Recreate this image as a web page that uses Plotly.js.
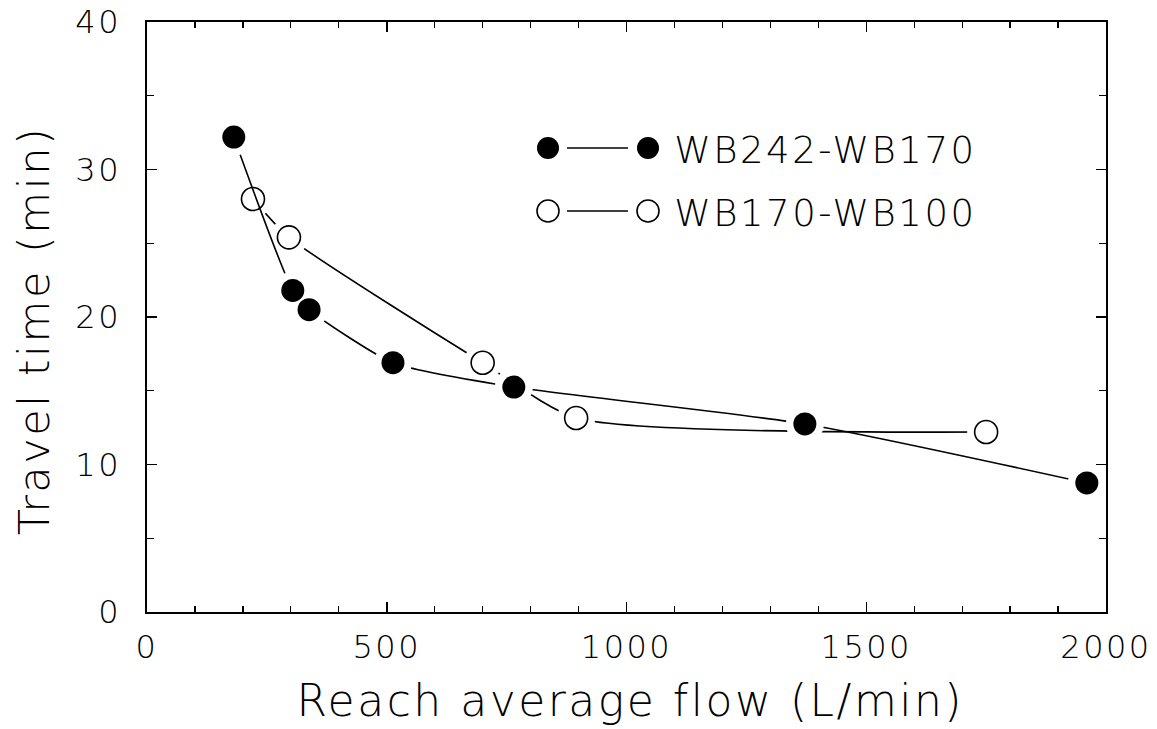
<!DOCTYPE html>
<html>
<head>
<meta charset="utf-8">
<script src="https://cdn.plot.ly/plotly-3.0.1.min.js"></script>
<style>
html,body{margin:0;padding:0;background:#fff;}
#chart{width:1157px;height:729px;}
#chart text{letter-spacing:2.5px;}
</style>
</head>
<body>
<div id="chart"></div>
<script>
// Data
const seriesNames = ["WB242-WB170", "WB170-WB100"];
const flowA = [181, 304, 338, 513, 765, 1372, 1960];
const timeA = [32.2, 21.8, 20.5, 16.9, 15.25, 12.75, 8.75];
const flowB = [221, 296, 700, 895, 1750];
const timeB = [28.0, 25.4, 16.9, 13.15, 12.2];
const xTickVals = [0, 500, 1000, 1500, 2000];
const yTickVals = [0, 10, 20, 30, 40];
const xTitle = 'Reach average flow (L/min)';
const yTitle = 'Travel time (min)';

const FONT = "'DejaVu Sans', sans-serif";
const WT = 200;
const W = 1157, H = 729;
const L = 147, R = 1106, T = 22, B = 612;
const px = v => (v - L) / (R - L);
const py = v => (B - v) / (B - T);

const lineW = 1.6;
const traces = [
  // open series
  {x: flowB, y: timeB, mode: 'lines', line: {color: '#000', width: lineW, shape: 'spline', smoothing: 0.6}, hoverinfo: 'skip', showlegend: false},
  {x: flowB, y: timeB, mode: 'markers', marker: {symbol: 'circle', size: 38, color: '#fff', line: {width: 0}}, hoverinfo: 'skip', showlegend: false},
  {x: flowB, y: timeB, mode: 'markers', name: seriesNames[1], marker: {symbol: 'circle', size: 23, color: '#fff', line: {color: '#000', width: 1.6}}, showlegend: false},
  // filled series
  {x: flowA, y: timeA, mode: 'lines', line: {color: '#000', width: lineW, shape: 'spline', smoothing: 0.6}, hoverinfo: 'skip', showlegend: false},
  {x: flowA, y: timeA, mode: 'markers', marker: {symbol: 'circle', size: 38, color: '#fff', line: {width: 0}}, hoverinfo: 'skip', showlegend: false},
  {x: flowA, y: timeA, mode: 'markers', name: seriesNames[0], marker: {symbol: 'circle', size: 23, color: '#000', line: {width: 0}}, showlegend: false}
];

// Legend drawn by hand (marker-line-marker pattern)
const legRows = [{y: 148, filled: true, text: seriesNames[0]}, {y: 211, filled: false, text: seriesNames[1]}];
const shapes = [];
const annotations = [];
const rr = 11;
legRows.forEach(r => {
  [548, 648].forEach(cx => {
    shapes.push({type: 'circle', xref: 'paper', yref: 'paper',
      x0: px(cx - rr), x1: px(cx + rr), y0: py(r.y + rr), y1: py(r.y - rr),
      fillcolor: r.filled ? '#000' : '#fff', line: {color: '#000', width: r.filled ? 0 : 1.6}});
  });
  shapes.push({type: 'line', xref: 'paper', yref: 'paper', x0: px(567), x1: px(628), y0: py(r.y), y1: py(r.y), line: {color: '#000', width: lineW}});
  annotations.push({xref: 'paper', yref: 'paper', x: px(686), y: py(r.y + 2), xanchor: 'left', yanchor: 'middle',
    text: r.text, showarrow: false, font: {family: FONT, size: 37, color: '#000', weight: WT}});
});
// axis titles
annotations.push({xref: 'paper', yref: 'paper', x: px(630), y: py(700), xanchor: 'center', yanchor: 'middle',
  text: xTitle, showarrow: false, font: {family: FONT, size: 44, color: '#000', weight: WT}});
annotations.push({xref: 'paper', yref: 'paper', x: px(34), y: py(331), xanchor: 'center', yanchor: 'middle', textangle: -90,
  text: yTitle, showarrow: false, font: {family: FONT, size: 43, color: '#000', weight: WT}});

const layout = {
  width: W, height: H,
  margin: {l: L, r: W - R, t: T, b: H - B},
  paper_bgcolor: '#fff', plot_bgcolor: '#fff',
  showlegend: false,
  font: {family: FONT, color: '#000', weight: WT},
  xaxis: {
    range: [0, 2000], tickvals: xTickVals, ticktext: xTickVals.map(String),
    ticks: 'inside', ticklen: 10, tickwidth: 1.5, tickcolor: '#000',
    minor: {dtick: 100, tick0: 0, ticks: 'inside', ticklen: 6, tickwidth: 1.2, tickcolor: '#000'},
    showline: true, linecolor: '#000', linewidth: 1.6, mirror: 'ticks',
    showgrid: false, zeroline: false, ticklabelstandoff: 6,
    tickfont: {family: FONT, size: 32, color: '#000', weight: WT}
  },
  yaxis: {
    range: [0, 40], tickvals: yTickVals, ticktext: yTickVals.map(String),
    ticks: 'inside', ticklen: 10, tickwidth: 1.5, tickcolor: '#000',
    minor: {dtick: 5, tick0: 0, ticks: 'inside', ticklen: 7, tickwidth: 1.2, tickcolor: '#000'},
    showline: true, linecolor: '#000', linewidth: 1.6, mirror: 'ticks',
    showgrid: false, zeroline: false, ticklabelstandoff: 18,
    tickfont: {family: FONT, size: 32, color: '#000', weight: WT}
  },
  shapes: shapes,
  annotations: annotations
};

Plotly.newPlot('chart', traces, layout, {displayModeBar: false, staticPlot: true});
</script>
</body>
</html>
